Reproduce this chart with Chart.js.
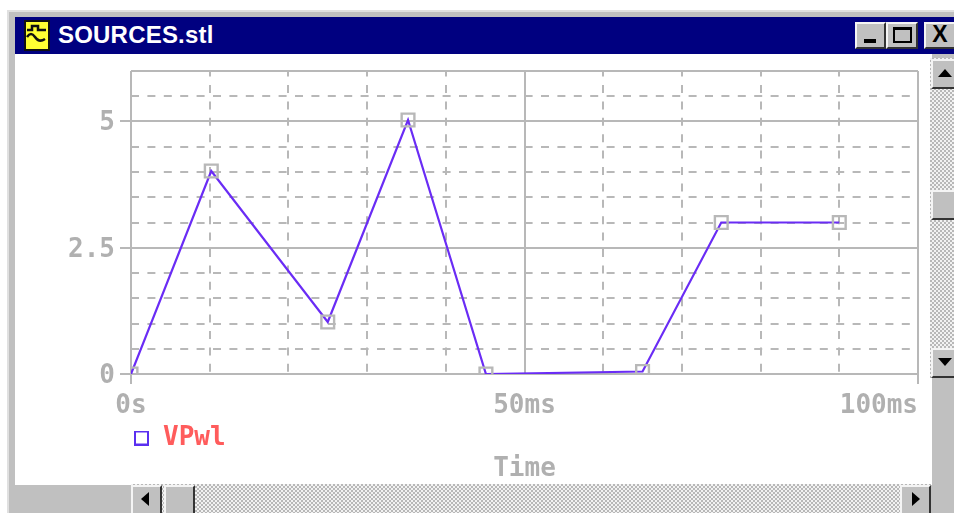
<!DOCTYPE html>
<html><head><meta charset="utf-8">
<style>
html,body{margin:0;padding:0;background:#fff;width:954px;height:513px;overflow:hidden}
.a{position:absolute;box-sizing:border-box}
.btn{background:#c0c0c0;border-top:2px solid #f4f4f4;border-left:2px solid #f4f4f4;border-right:2px solid #333;border-bottom:2px solid #333}
.dith{background:repeating-conic-gradient(#b8b8b8 0 25%,#f2f2f2 0 50%) 0 0/4px 4px}
#title{left:58px;top:20px;color:#fff;font:bold 24px "Liberation Sans",sans-serif;letter-spacing:.2px;line-height:30px;white-space:nowrap}
canvas{position:absolute;left:0;top:0}
</style></head><body>
<div class="a" style="left:7px;top:10px;width:947px;height:503px;background:#c0c0c0;border-top:2px solid #e0e0e0;border-left:2px solid #e0e0e0"></div>
<div class="a" style="left:15px;top:17px;width:939px;height:37px;background:#000080"></div>
<div class="a" style="left:15px;top:54px;width:917px;height:431px;background:#fff"></div>
<svg class="a" style="left:24px;top:20px" width="26" height="32" viewBox="0 0 26 32"><rect x="1" y="1" width="24" height="29" fill="#ffff33" stroke="#111" stroke-width="2"/><path d="M3 10h5v-4h6v4h8M3 17q4-6 8 0t10 2" fill="none" stroke="#111" stroke-width="2.5"/></svg>
<div class="a" id="title">SOURCES.stl</div>
<div class="a btn" style="left:855px;top:22px;width:31px;height:27px"><div class="a" style="left:7px;top:15px;width:12px;height:4px;background:#000"></div></div>
<div class="a btn" style="left:886px;top:22px;width:32px;height:27px"><div class="a" style="left:5px;top:3px;width:19px;height:16px;border:2px solid #000;border-top-width:3px"></div></div>
<div class="a btn" style="left:924px;top:22px;width:32px;height:27px;color:#000;font:bold 23px/21px 'Liberation Sans',sans-serif;text-align:center">X</div>
<div class="a dith" style="left:930px;top:58px;width:24px;height:320px"></div>
<div class="a btn" style="left:931px;top:59px;width:30px;height:30px"><div class="a" style="left:5px;top:8px;border-left:7px solid transparent;border-right:7px solid transparent;border-bottom:8px solid #000"></div></div>
<div class="a btn" style="left:931px;top:190px;width:30px;height:30px"></div>
<div class="a btn" style="left:931px;top:348px;width:30px;height:30px"><div class="a" style="left:5px;top:8px;border-left:7px solid transparent;border-right:7px solid transparent;border-top:8px solid #000"></div></div>
<div class="a dith" style="left:131px;top:484px;width:800px;height:29px"></div>
<div class="a btn" style="left:131px;top:485px;width:31px;height:30px"><div class="a" style="left:8px;top:5px;border-top:7px solid transparent;border-bottom:7px solid transparent;border-right:8px solid #000"></div></div>
<div class="a btn" style="left:164px;top:485px;width:31px;height:30px"></div>
<div class="a btn" style="left:900px;top:485px;width:31px;height:30px"><div class="a" style="left:10px;top:5px;border-top:7px solid transparent;border-bottom:7px solid transparent;border-left:8px solid #000"></div></div>
<canvas id="c" width="954" height="513"></canvas>
<script src="https://cdn.jsdelivr.net/npm/chart.js@4"></script>
<script>
const seriesName = "VPwl";
const timeMs = [0, 10.2, 25, 35.2, 45.1, 65, 75, 90];
const vpwl = [0, 4.02, 1.03, 5.03, 0, 0.05, 3, 3];
const xLabels = {0: "0s", 50: "50ms", 100: "100ms"};
const yLabels = {0: "0", 2.5: "2.5", 5: "5"};
const axisTitle = "Time";

const GRID = "#b8b8b8", TEXT = "#b0b0b0";
const FONT = '"DejaVu Sans Mono", monospace';
const isMajorX = v => v === 0 || v === 50 || v === 100;
const isMajorY = v => v === 0 || v === 2.5 || v === 5 || v === 6;

const legendBox = document.createElement("canvas");
legendBox.width = 15; legendBox.height = 15;
const lctx = legendBox.getContext("2d");
lctx.strokeStyle = "#5a2ff0"; lctx.lineWidth = 2; lctx.strokeRect(1, 1, 13, 13);

const placeLegend = {
  id: "placeLegend",
  afterLayout(chart) {
    const l = chart.legend;
    const w = l.right - l.left, h = l.bottom - l.top;
    l.left = 125; l.right = 125 + w; l.top = 417; l.bottom = 417 + h;
  }
};

new Chart(document.getElementById("c"), {
  type: "line",
  data: { datasets: [{
    label: seriesName,
    data: timeMs.map((t, i) => ({x: t, y: vpwl[i]})),
    borderColor: "#6a2cf5",
    borderWidth: 2.2,
    tension: 0,
    pointStyle: "rect",
    pointRadius: 9,
    pointBorderColor: "#b8b8b8",
    pointBorderWidth: 2.4,
    pointBackgroundColor: "rgba(0,0,0,0)"
  }]},
  plugins: [placeLegend],
  options: {
    responsive: false, animation: false, devicePixelRatio: 1,
    layout: { padding: { left: 0, right: 36, top: 71, bottom: 28 } },
    plugins: {
      tooltip: { enabled: false },
      legend: {
        position: "chartArea", align: "start",
        labels: {
          usePointStyle: true, pointStyleWidth: 17, boxHeight: 13,
          padding: 8, color: "#ff5c5c",
          font: { family: FONT, weight: "bold", size: 26 },
          generateLabels: () => [{ text: seriesName, fillStyle: "rgba(0,0,0,0)", strokeStyle: "#5a2ff0",
            lineWidth: 2, pointStyle: legendBox, datasetIndex: 0, fontColor: "#ff5c5c" }]
        }
      }
    },
    scales: {
      x: {
        type: "linear", min: 0, max: 100,
        afterFit: s => { s.height = 111; s.paddingLeft = 0; s.paddingRight = 0; },
        afterBuildTicks: s => { s.ticks = [0,10,20,30,40,50,60,70,80,90,100].map(v => ({value: v})); },
        ticks: {
          autoSkip: false, maxRotation: 0, minRotation: 0, padding: 7, color: TEXT,
          font: { family: FONT, weight: "bold", size: 26 },
          callback: v => v === 100 ? xLabels[v] + "\u00a0\u00a0\u00a0\u00a0\u00a0" : (xLabels[v] ?? "")
        },
        grid: {
          color: GRID, lineWidth: 2,
          tickLength: 10, tickColor: c => (c.tick?.value === 0 || c.tick?.value === 100) ? GRID : "rgba(0,0,0,0)",
          tickBorderDash: []
        },
        border: { display: false, dash: c => isMajorX(c.tick?.value) ? [] : [8, 8.4], dashOffset: 2.4 },
        title: { display: true, text: axisTitle, color: TEXT, padding: 0,
          font: { family: FONT, weight: "bold", size: 26 } }
      },
      y: {
        min: 0, max: 6,
        afterFit: s => { s.width = 131; s.paddingTop = 0; s.paddingBottom = 0; },
        afterBuildTicks: s => { s.ticks = [0,0.5,1,1.5,2,2.5,3,3.5,4,4.5,5,5.5,6].map(v => ({value: v})); },
        ticks: {
          autoSkip: false, padding: 5, labelOffset: 2, color: TEXT,
          font: { family: FONT, weight: "bold", size: 26 },
          callback: v => yLabels[v] ?? ""
        },
        grid: {
          color: GRID, lineWidth: 2,
          tickLength: 11, tickColor: c => (isMajorY(c.tick?.value) && c.tick?.value !== 6) ? GRID : "rgba(0,0,0,0)",
          tickBorderDash: []
        },
        border: { display: false, dash: c => isMajorY(c.tick?.value) ? [] : [8, 8.4], dashOffset: 0 }
      }
    }
  }
});
</script>
</body></html>
